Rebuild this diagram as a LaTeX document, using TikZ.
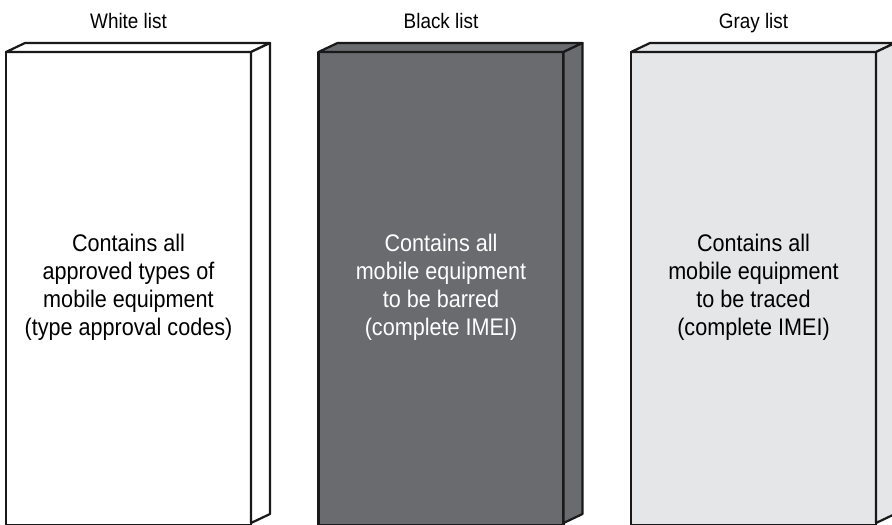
\documentclass[tikz,border=0pt]{standalone}
\usepackage{fontspec}
\setmainfont{Liberation Sans}[FakeStretch=0.9]
\definecolor{darkbox}{HTML}{6A6B6F}
\definecolor{lightbox}{HTML}{E5E6E8}
\tikzset{
  edge/.style={draw=black!90, line width=2.2pt, line join=round},
  title/.style={font=\fontsize{21}{25}\selectfont, anchor=base},
  body/.style={font=\fontsize{24}{28}\selectfont, align=center, anchor=center},
}
\newcommand{\listbox}[3]{%
  \path[edge, fill=#2] (#1,52) -- (#1+245,52) -- (#1+245,525) -- (#1,525) -- cycle;
  \path[edge, fill=#2] (#1,52) -- (#1+19,43) -- (#1+264,43) -- (#1+245,52) -- cycle;
  \path[edge, fill=#2] (#1+245,52) -- (#1+264,43) -- (#1+264,514) -- (#1+245,523) -- cycle;
  \coordinate (#3) at (#1+122.5,287);
}
\begin{document}
\begin{tikzpicture}[x=1pt,y=-1pt]
\useasboundingbox (0,0) rectangle (892,525);
\listbox{6}{white}{wc}
\listbox{318.5}{darkbox}{bc}
\listbox{631}{lightbox}{gc}
\node[title] (wt) at (128.5,28) {White list};
\node[title] (bt) at (441,28) {Black list};
\node[title] (gt) at (753.5,28) {Gray list};
\node[body] (wb) at (wc) {Contains all\\approved types of\\mobile equipment\\(type approval codes)};
\node[body, text=white] (bb) at (bc) {Contains all\\mobile equipment\\to be barred\\(complete IMEI)};
\node[body] (gb) at (gc) {Contains all\\mobile equipment\\to be traced\\(complete IMEI)};
\end{tikzpicture}
\end{document}
